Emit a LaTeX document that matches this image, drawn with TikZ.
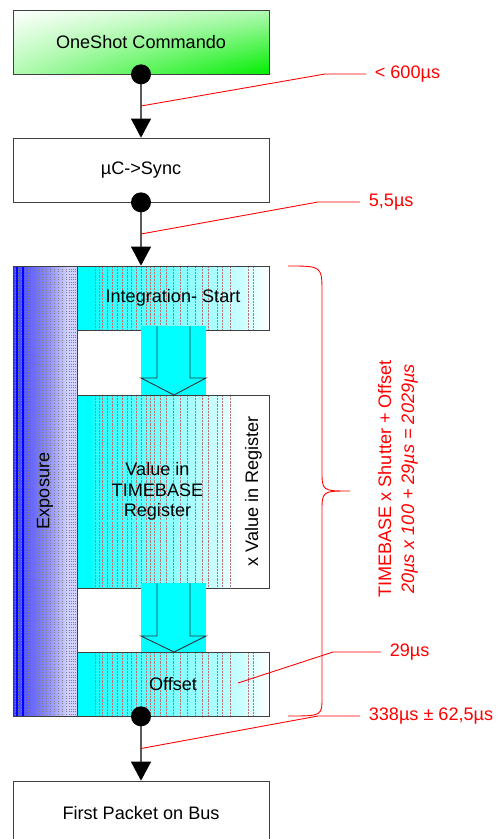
\documentclass[tikz,border=0pt]{standalone}
\usepackage{fontspec}
\setmainfont{Liberation Sans}
\usetikzlibrary{arrows.meta, calc, shadings}

\definecolor{cmdgreen}{RGB}{0,238,0}
\definecolor{regcyan}{RGB}{0,255,255}
\definecolor{expblue}{RGB}{70,70,255}
\definecolor{expmid}{RGB}{140,140,255}
\definecolor{explight}{RGB}{210,210,255}
\definecolor{stripered}{RGB}{185,115,115}

\pgfdeclarehorizontalshading{regshade}{100bp}{color(0bp)=(regcyan); color(29bp)=(regcyan); color(31bp)=(regcyan!85!white); color(68bp)=(regcyan!20!white); color(75bp)=(white); color(100bp)=(white)}
\pgfdeclarehorizontalshading{expshade}{100bp}{color(0bp)=(expblue); color(28bp)=(expblue); color(52bp)=(expmid); color(68bp)=(explight); color(100bp)=(explight)}

\pgfdeclarelayer{background}
\pgfsetlayers{background,main}

\begin{document}
\begin{tikzpicture}[
        x=0.02cm, y=-0.02cm, % one unit per pixel, y runs downwards
        every node/.style={font=\fontsize{10.3}{12.5}\selectfont},
        box/.style={draw=black!75, minimum width=5.12cm, minimum height=1.28cm, inner sep=0pt},
        regbox/.style={draw=black!75, minimum width=3.84cm, minimum height=1.28cm, inner sep=0pt},
        flow/.style={draw=black!65, line width=0.6pt, -{Triangle[width=0.4cm, length=0.38cm, color=black]}},
        callout/.style={red, line width=0.5pt},
        lbl/.style={red, anchor=west, inner sep=0.17cm},
        stripe/.style={stripered, line width=0.3pt, dash pattern=on 1.2pt off 0.6pt},
        expstripe/.style={gray, line width=0.5pt, densely dotted},
        blockarrow/.style={draw=black!80, line width=0.5pt}
    ]
        \useasboundingbox (0,0) rectangle (499,839);
        \clip (0,0) rectangle (499,839);

        % Boxes
        \node[box] (cmd) at (141,42) {OneShot Commando};
        \node[box] (sync) at (141,170) {µC->Sync};
        \node[draw=black!75, rotate=90, minimum width=9cm, minimum height=1.28cm, inner sep=0pt] (expo) at (45,491) {Exposure};
        \node[regbox] (integ) at (173,298) {Integration- Start};
        \node[regbox, minimum height=3.86cm] (value) at (173,491.5) {};
        \node[align=center, font=\fontsize{10.3}{11.5}\selectfont] (valtext) at (157.5,491.5) {Value in\\TIMEBASE\\Register};
        \node[rotate=90] (xreg) at (253.5,491.5) {x Value in Register};
        \node[regbox] (offset) at (173,684) {Offset};
        \node[box] (packet) at (141,813) {First Packet on Bus};

        % Fills behind the boxes
        \begin{pgfonlayer}{background}
            \shade[upper left=white, upper right=cmdgreen!30!white, lower left=cmdgreen!30!white, lower right=cmdgreen] (13,10) rectangle (269,74);
            \shade[shading=expshade] (13,266) rectangle (77,716);
            \foreach \sx in {15,18,21,25,28,31,35,38,42,46,50,54,58,62,66,69,71,73,75}
                \draw[expstripe] (\sx,266) -- (\sx,716);
            \draw[blue, line width=0.6pt] (17,266) -- (17,716);
            \draw[blue, line width=0.6pt] (23,266) -- (23,716);
            \shade[shading=regshade] (77,266) rectangle (269,330);
            \shade[shading=regshade] (77,395) rectangle (238,588);
            \shade[shading=regshade] (77,652) rectangle (269,716);
            \foreach \sx in {95,99,102,107,112,117,122,127,131,136,141,146,150,154,160,166,173,180,187,195,202,208,217,222,230}
            {
                \draw[stripe] (\sx,266) -- (\sx,330);
                \draw[stripe] (\sx,395) -- (\sx,588);
                \draw[stripe] (\sx,652) -- (\sx,716);
            }
            \foreach \sx in {248,253}
            {
                \draw[stripe] (\sx,266) -- (\sx,330);
                \draw[stripe] (\sx,652) -- (\sx,716);
            }
        \end{pgfonlayer}

        % Block arrows between the register steps
        \fill[regcyan] (141,326) rectangle (206,395);
        \draw[blockarrow] (157,326) -- (157,378) -- (141,378) -- (174,395) -- (206,378) -- (190,378) -- (190,326);
        \fill[regcyan] (141,583) rectangle (206,652);
        \draw[blockarrow] (157,583) -- (157,636) -- (141,636) -- (174,652) -- (206,636) -- (190,636) -- (190,583);

        % Flow
        \coordinate (intin) at (sync.south |- integ.north);
        \coordinate (offout) at (sync.south |- offset.south);
        \draw[flow] (cmd.south) -- (sync.north);
        \draw[flow] (sync.south) -- (intin);
        \draw[flow] (offout) -- (packet.north);
        \fill (cmd.south) circle (0.2cm);
        \fill (sync.south) circle (0.2cm);
        \fill (offout) circle (0.2cm);

        % Timing labels
        \node[lbl] (lbl600) at (366,74) {< 600µs};
        \node[lbl] (lblsync) at (360,202) {5,5µs};
        \node[lbl] (lbloff) at (381,652) {29µs};
        \node[lbl] (lblbus) at (360,716) {338µs ± 62,5µs};

        \coordinate (mark1) at ($(cmd.south)!0.5!(sync.north)$);
        \coordinate (mark2) at ($(sync.south)!0.5!(intin)$);
        \coordinate (mark3) at (238,683);
        \coordinate (mark4) at ($(offout)!0.5!(packet.north)$);
        \draw[callout] (mark1) -- (325,74) -- (lbl600.west);
        \draw[callout] (mark2) -- (318,202) -- (lblsync.west);
        \draw[callout] (mark3) -- (333,652) -- (lbloff.west);
        \draw[callout] (mark4) -- (318,716) -- (lblbus.west);

        % Brace and total
        \draw[callout] (288,266) .. controls (322,266) .. (322,293) -- (322,470)
            .. controls (322,491) .. (350,491) .. controls (322,491) .. (322,512)
            -- (322,697) .. controls (322,716) .. (288,716);
        \node[red, rotate=90, align=center, font=\fontsize{10.3}{13.1}\selectfont] (total) at (398,479)
            {TIMEBASE x Shutter + Offset\\\textit{20µs x 100 + 29µs = 2029µs}};

    \end{tikzpicture}
\end{document}
